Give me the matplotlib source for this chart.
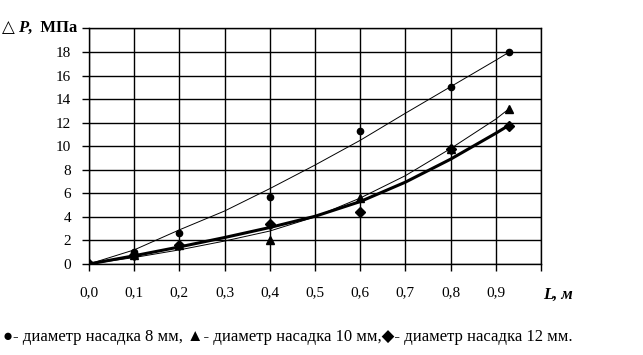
import matplotlib
matplotlib.use("Agg")
import matplotlib.pyplot as plt

plt.rcParams['font.family'] = ['Liberation Serif', 'DejaVu Sans']

# measured points
L_pts = [0.0, 0.1, 0.2, 0.4, 0.6, 0.8, 0.93]
dp_8mm = [0.0, 1.0, 2.6, 5.7, 11.3, 15.05, 18.0]
dp_10mm = [0.0, 0.8, 1.6, 2.0, 5.6, 9.8, 13.2]
dp_12mm = [0.0, 0.8, 1.6, 3.4, 4.4, 9.8, 11.7]

# trend curves
L_fit = [0.0, 0.1, 0.2, 0.3, 0.4, 0.5, 0.6, 0.7, 0.8, 0.9, 0.93]
fit_8mm = [0.0, 1.2, 2.9, 4.5, 6.4, 8.4, 10.5, 12.8, 15.05, 17.3, 18.0]
fit_10mm = [0.0, 0.55, 1.2, 1.95, 2.8, 4.0, 5.6, 7.5, 9.8, 12.3, 13.2]
fit_12mm = [0.0, 0.7, 1.45, 2.25, 3.1, 4.05, 5.3, 6.95, 8.9, 11.1, 11.8]

x_ticks = [0.0, 0.1, 0.2, 0.3, 0.4, 0.5, 0.6, 0.7, 0.8, 0.9, 1.0]
x_labels = ['0,0', '0,1', '0,2', '0,3', '0,4', '0,5', '0,6', '0,7', '0,8', '0,9', '']
y_ticks = [0, 2, 4, 6, 8, 10, 12, 14, 16, 18, 20]
y_labels = ['0', '2', '4', '6', '8', '10', '12', '14', '16', '18', '']

fig = plt.figure(figsize=(6.43, 3.55), dpi=100)
ax = fig.add_axes([0.1384, 0.2563, 0.7030, 0.6637])

ax.plot(L_fit, fit_8mm, color='black', lw=0.7)
ax.plot(L_fit, fit_10mm, color='black', lw=0.7)
ax.plot(L_fit, fit_12mm, color='black', lw=2.2)

ax.plot(L_pts, dp_8mm, 'o', color='black', ms=4.5, ls='none')
ax.plot(L_pts, dp_10mm, '^', color='black', ms=6, ls='none')
ax.plot(L_pts, dp_12mm, 'D', color='black', ms=5, ls='none')

ax.set_xlim(0, 1.0)
ax.set_ylim(0, 20)
ax.set_xticks(x_ticks)
ax.set_xticklabels(x_labels)
ax.set_yticks(y_ticks)
ax.set_yticklabels(y_labels)
ax.grid(True, color='black', lw=1.0)
ax.set_axisbelow(True)
for s in ax.spines.values():
    s.set_linewidth(1.0)
ax.tick_params(axis='x', direction='out', length=5, width=1.0, pad=11, labelsize=11)
ax.tick_params(axis='y', direction='out', length=5, width=1.0, pad=8, labelsize=11)

# y-axis title in pieces: triangle, italic P, units
fig.text(2 / 643, 0.922, '\u25b3', fontsize=12, va='center', ha='left')
fig.text(18 / 643, 0.922, 'P', fontsize=12, fontweight='bold', fontstyle='italic',
         va='center', ha='left')
fig.text(28 / 643, 0.922, ',  МПа', fontsize=12, fontweight='bold', va='center', ha='left')

fig.text(0.845, 0.168, 'L, м', fontsize=12, fontweight='bold', fontstyle='italic',
         va='center', ha='left')

fig.text(0.004, 0.05,
         '\u25cf- диаметр насадка 8 мм, \u25b2- диаметр насадка 10 мм,\u25c6- диаметр насадка 12 мм.',
         fontsize=12, va='center', ha='left')

fig.savefig('out.png', dpi=100)
